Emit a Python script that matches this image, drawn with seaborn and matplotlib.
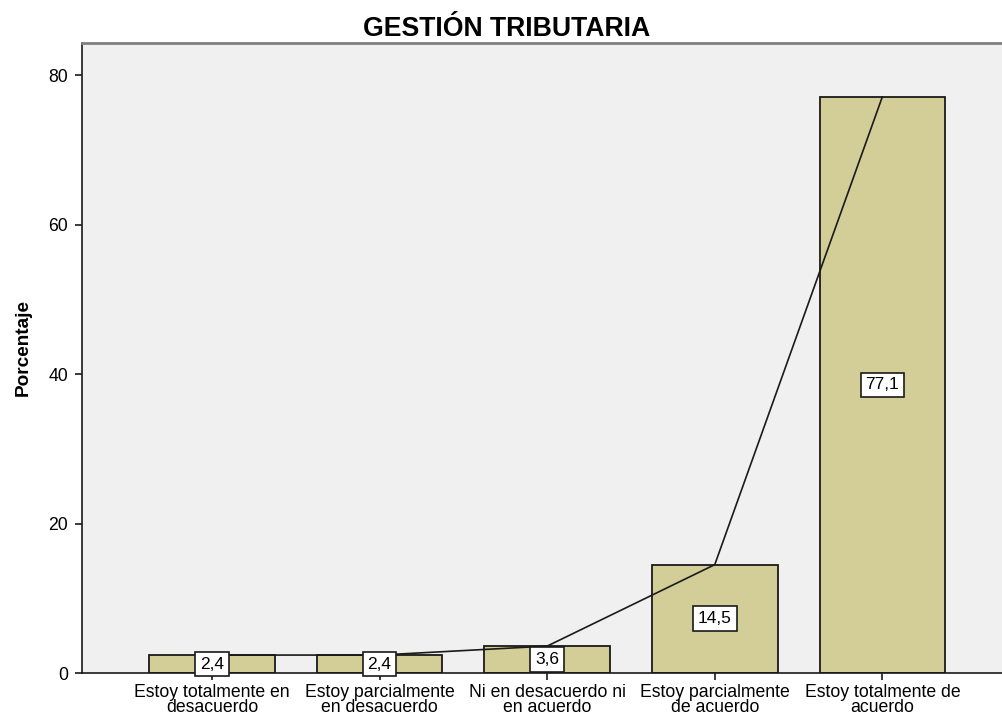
import numpy as np
import pandas as pd
import matplotlib
matplotlib.use("Agg")
import matplotlib.pyplot as plt
import seaborn as sns

# Data
categories = [
    "Estoy totalmente en\ndesacuerdo",
    "Estoy parcialmente\nen desacuerdo",
    "Ni en desacuerdo ni\nen acuerdo",
    "Estoy parcialmente\nde acuerdo",
    "Estoy totalmente de\nacuerdo",
]
percentages = [2.4, 2.4, 3.6, 14.5, 77.1]
value_labels = ["2,4", "2,4", "3,6", "14,5", "77,1"]

df = pd.DataFrame({"categoria": categories, "porcentaje": percentages})

sns.set_style("white")
plt.rcParams["font.family"] = ["Liberation Sans", "DejaVu Sans"]
plt.rcParams["text.color"] = "black"
plt.rcParams["axes.labelcolor"] = "black"
plt.rcParams["xtick.color"] = "black"
plt.rcParams["ytick.color"] = "black"

fig = plt.figure(figsize=(10.03, 7.21), dpi=100)
ax = fig.add_axes([82 / 1003, 1 - 673 / 721, 1 - 82 / 1003, (673 - 43) / 721])
ax.set_facecolor("#F0F0F0")

sns.barplot(data=df, x="categoria", y="porcentaje", color="#D3CE97",
            saturation=1, width=0.75, edgecolor="#1a1a1a", linewidth=1.3, ax=ax)

# line through the bar tops
sns.lineplot(x=np.arange(len(percentages)), y=percentages, color="#1a1a1a",
             linewidth=1.2, ax=ax)

# value labels in white boxes at half bar height
for i, (v, lab) in enumerate(zip(percentages, value_labels)):
    ax.text(i, v / 2, lab, ha="center", va="center", fontsize=12.5, zorder=5,
            bbox=dict(boxstyle="square,pad=0.28", facecolor="white",
                      edgecolor="#1a1a1a", linewidth=1.2))

ax.set_xlim(-0.776, 4.72)
ax.set_ylim(0, 84.3)
ax.set_yticks([0, 20, 40, 60, 80])

ax.spines["right"].set_visible(False)
ax.spines["left"].set_color("#1a1a1a")
ax.spines["bottom"].set_color("#1a1a1a")
ax.spines["top"].set_color("#808080")
ax.spines["top"].set_linewidth(2)
ax.spines["left"].set_linewidth(1.2)
ax.spines["bottom"].set_linewidth(1.2)

ax.tick_params(axis="both", direction="out", length=5, width=1.2,
               color="#1a1a1a", labelsize=12.7, bottom=True, left=True)
for t in ax.get_xticklabels():
    t.set_linespacing(0.8)
ax.tick_params(axis="x", pad=3)
ax.tick_params(axis="y", pad=5)

ax.set_xlabel("")
ax.set_ylabel("Porcentaje", fontsize=13.7, fontweight="bold")
ax.yaxis.set_label_coords(-(82 - 32) / 921, (673 - 347) / 630)

fig.text(507 / 1003, 1 - 29 / 721, "GESTIÓN TRIBUTARIA", ha="center", va="center",
         fontsize=19.2, fontweight="bold")

fig.savefig("out.png", dpi=100)
